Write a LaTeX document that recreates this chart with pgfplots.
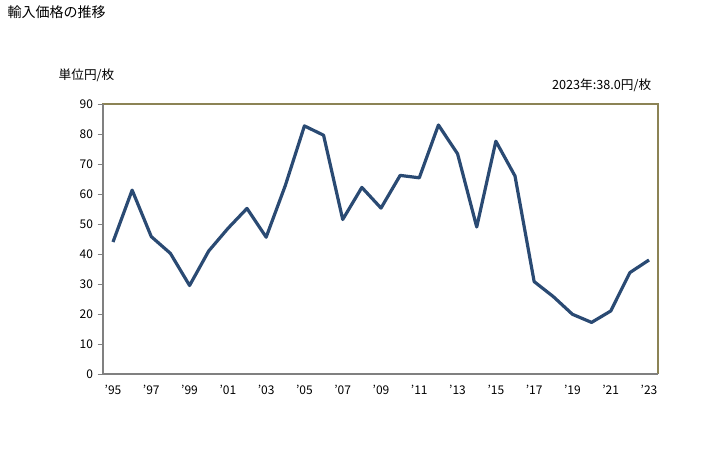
\documentclass[border=0pt]{standalone}
\usepackage{pgfplots}
\pgfplotsset{compat=1.18}
\usepackage{fontspec}
\setmainfont{Noto Sans CJK JP}
\definecolor{linec}{HTML}{2A4A73}
\definecolor{frame}{HTML}{8C8355}
\begin{document}
\begin{tikzpicture}
\path[use as bounding box] (0,0) rectangle (546pt,337.5pt);
\node[anchor=west,font=\fontsize{10.5}{12}\selectfont] at (2.25pt,328.5pt) {輸入価格の推移};
\node[anchor=west,font=\fontsize{9.5}{11}\selectfont] at (40.5pt,281.25pt) {単位円/枚};
\node[anchor=east,font=\fontsize{9.5}{11}\selectfont] at (492pt,273.75pt) {2023年:38.0円/枚};
\begin{axis}[
  at={(77.25pt,57pt)}, anchor=south west,
  scale only axis, width=416.25pt, height=202.5pt,
  xmin=1994.478, xmax=2023.47, ymin=0, ymax=90,
  ytick={0,10,...,90},
  xtick={1995,1997,...,2023},
  xticklabels={'95,'97,'99,'01,'03,'05,'07,'09,'11,'13,'15,'17,'19,'21,'23},
  /pgf/number format/assume math mode=true,
  tick label style={font=\fontsize{9}{10}\selectfont},
  axis line style={draw=none},
  ytick style={draw=gray, line width=0.6pt},
  xtick style={draw=none},
  tick align=outside, major tick length=4pt,
  ytick pos=left, xtick pos=bottom,
  xticklabel style={yshift=-1pt},
  clip=false,
]
\draw[frame, line width=0.8pt] (axis cs:1994.478,0) -- (axis cs:1994.478,90) -- (axis cs:2023.47,90) -- (axis cs:2023.47,0);
\draw[gray, line width=0.8pt] (axis cs:1994.478,90) -- (axis cs:1994.478,0) -- (axis cs:2023.47,0);
\addplot[linec, line width=2.4pt, line join=round] coordinates {
(1995,44.0) (1996,61.3) (1997,45.8) (1998,40.2) (1999,29.5) (2000,41.0)
(2001,48.5) (2002,55.2) (2003,45.6) (2004,62.8) (2005,82.7) (2006,79.6)
(2007,51.5) (2008,62.2) (2009,55.3) (2010,66.2) (2011,65.4) (2012,83.0)
(2013,73.4) (2014,49.0) (2015,77.6) (2016,66.0) (2017,30.8) (2018,25.8)
(2019,19.9) (2020,17.2) (2021,21.0) (2022,33.8) (2023,38.0)
};
\end{axis}
\end{tikzpicture}
\end{document}
